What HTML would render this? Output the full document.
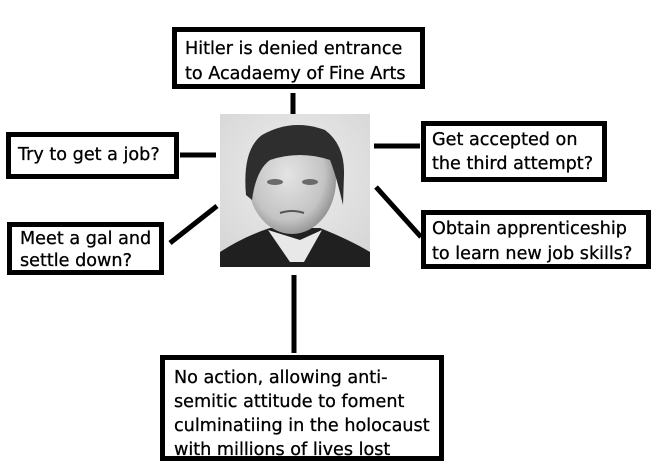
<!DOCTYPE html>
<html><head><meta charset="utf-8"><style>
body{margin:0;background:#fff;}
.b{position:absolute;border:5px solid #000;background:#fff;box-sizing:border-box;font-family:"DejaVu Sans","Liberation Sans",sans-serif;font-size:17.6px;line-height:24.5px;color:#000;white-space:nowrap;-webkit-text-stroke:0.3px #000;}
</style></head><body>
<div style="position:relative;width:658px;height:475px;overflow:hidden">
<svg width="658" height="475" style="position:absolute;left:0;top:0">
<defs>
<radialGradient id="bg" cx="0.5" cy="0.4" r="0.7"><stop offset="0" stop-color="#eeeeee"/><stop offset="1" stop-color="#d6d6d6"/></radialGradient>
<radialGradient id="face" cx="0.45" cy="0.45" r="0.6"><stop offset="0" stop-color="#e4e4e4"/><stop offset="0.7" stop-color="#c4c4c4"/><stop offset="1" stop-color="#8a8a8a"/></radialGradient>
</defs>
<g stroke="#000" stroke-width="5" stroke-linecap="butt">
<line x1="293" y1="93" x2="293" y2="116"/>
<line x1="180" y1="155" x2="216" y2="155"/>
<line x1="374" y1="146" x2="420" y2="146"/>
<line x1="170" y1="243" x2="217" y2="206"/>
<line x1="376" y1="187" x2="421" y2="237"/>
<line x1="294" y1="275" x2="294" y2="353"/>
</g>
<rect x="220" y="114" width="150" height="153" fill="url(#bg)"/>
<path d="M220 267 L220 252 Q245 236 270 228 L320 228 Q350 240 370 252 L370 267Z" fill="#202020"/>
<path d="M268 230 L290 262 L304 262 L322 230 L300 240Z" fill="#e8e8e8"/>
<ellipse cx="292" cy="180" rx="44" ry="54" fill="url(#face)"/>
<path d="M246 195 Q242 150 262 135 Q292 118 325 130 Q345 145 344 175 L343 205 Q336 175 330 160 Q300 150 270 160 Q256 170 252 200Z" fill="#2e2e2e"/>
<ellipse cx="275" cy="182" rx="8" ry="3" fill="#6a6a6a"/>
<ellipse cx="310" cy="182" rx="8" ry="3" fill="#6a6a6a"/>
<path d="M280 213 Q292 209 304 213" stroke="#555" stroke-width="2" fill="none"/>
</svg>
<div class="b" style="left:172px;top:27px;width:253px;height:62px;padding:5px 0 0 8px;">Hitler is denied entrance<br>to Acadaemy of Fine Arts</div>
<div class="b" style="left:6px;top:132px;width:173px;height:47px;padding:6px 0 0 7px;">Try to get a job?</div>
<div class="b" style="left:421px;top:121px;width:186px;height:61px;padding:3px 0 0 6px;line-height:23.5px;">Get accepted on<br>the third attempt?</div>
<div class="b" style="left:7px;top:222px;width:157px;height:53px;padding:1px 0 0 8px;line-height:22px;">Meet a gal and<br>settle down?</div>
<div class="b" style="left:421px;top:210px;width:230px;height:59px;padding:2px 0 0 6px;line-height:25px;">Obtain apprenticeship<br>to learn new job skills?</div>
<div class="b" style="left:160px;top:355px;width:284px;height:106px;padding:6px 0 0 9px;line-height:24px;">No action, allowing anti-<br>semitic attitude to foment<br>culminatiing in the holocaust<br>with millions of lives lost</div>
</div>
</body></html>
